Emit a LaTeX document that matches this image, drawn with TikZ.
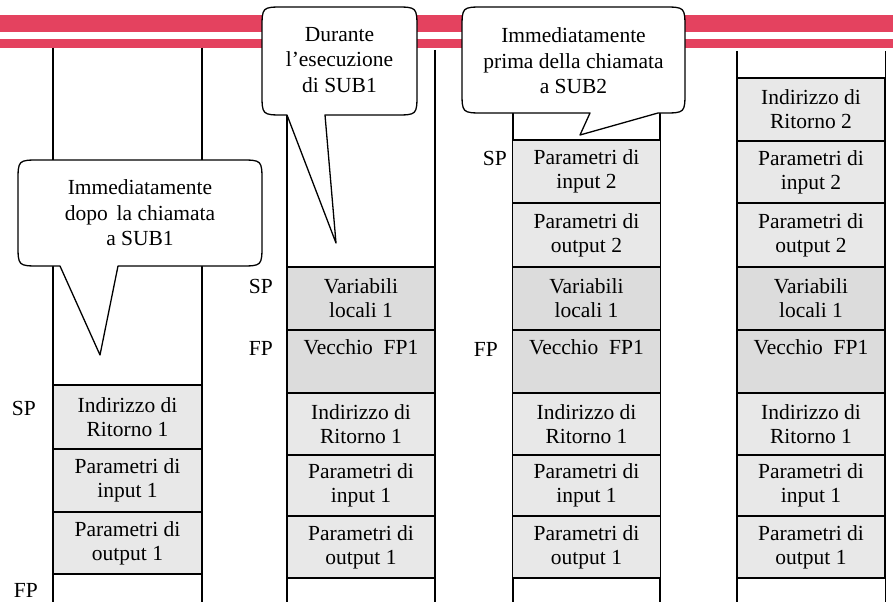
\documentclass[tikz,border=0pt]{standalone}
\usepackage{fontspec}
\setmainfont{Liberation Serif}
\definecolor{barred}{HTML}{E4425F}
\definecolor{lightgr}{HTML}{E8E8E8}
\definecolor{darkgr}{HTML}{DCDCDC}
\begin{document}
\begin{tikzpicture}[x=1pt,y=-1pt,
  every node/.style={font=\fontsize{21.5}{24}\selectfont},
  stackbox/.style={draw=black,line width=1.3pt,minimum width=148pt,inner sep=0pt,outer sep=0pt,align=center},
  lbox/.style={stackbox,fill=lightgr},
  dbox/.style={stackbox,fill=darkgr},
  lbl/.style={anchor=base east,inner sep=0pt},
  stackline/.style={line width=1.2pt},
  callout/.style={draw=black,fill=white,line width=1.3pt,line join=round},
  ctext/.style={align=center,font=\fontsize{21.5}{25.5}\selectfont}]
\useasboundingbox (0,0) rectangle (893,602);
% red bars
\fill[barred] (0,15) rectangle (893,31.7);
\fill[barred] (0,39) rectangle (893,47.7);
% stack side lines
\draw[stackline] (53,47.7) -- (53,602) (202,47.7) -- (202,602);
\draw[stackline] (287,50) -- (287,602) (435,50) -- (435,602);
\draw[stackline] (513,50) -- (513,602) (660,50) -- (660,602);
\draw[stackline] (737,51) -- (737,602) (885.5,51) -- (885.5,602);
% column 1
\node[lbox,minimum height=64pt] (a1) at (127.5,417) {Indirizzo di\\Ritorno 1};
\node[lbox,minimum height=63pt] (a2) at (127.5,480.5) {Parametri di\\input 1};
\node[lbox,minimum height=62pt] (a3) at (127.5,543) {Parametri di\\output 1};
\node[lbl] (asp) at (36,415) {SP};
\node[lbl] (afp) at (38,597.5) {FP};
% column 2
\node[dbox,minimum height=63pt] (b1) at (361,298.5) {Variabili\\locali 1};
\node[dbox,minimum height=63pt] (b2) at (361,361.5) {};
\node[anchor=base,inner sep=0pt] (b2t) at (361,354) {Vecchio\ \ FP1};
\node[lbox,minimum height=62pt] (b3) at (361,424) {Indirizzo di\\Ritorno 1};
\node[lbox,minimum height=61pt] (b4) at (361,485.5) {Parametri di\\input 1};
\node[lbox,minimum height=62pt] (b5) at (361,547) {Parametri di\\output 1};
\node[lbl] (bsp) at (273,293) {SP};
\node[lbl] (bfp) at (273,355) {FP};
% column 3
\node[lbox,minimum height=63pt] (c1) at (586.5,171.5) {Parametri di\\input 2};
\node[lbox,minimum height=64pt] (c2) at (586.5,235) {Parametri di\\output 2};
\node[dbox,minimum height=63pt] (c3) at (586.5,298.5) {Variabili\\locali 1};
\node[dbox,minimum height=63pt] (c4) at (586.5,361.5) {};
\node[anchor=base,inner sep=0pt] (c4t) at (586.5,354) {Vecchio\ \ FP1};
\node[lbox,minimum height=62pt] (c5) at (586.5,424) {Indirizzo di\\Ritorno 1};
\node[lbox,minimum height=61pt] (c6) at (586.5,485.5) {Parametri di\\input 1};
\node[lbox,minimum height=62pt] (c7) at (586.5,547) {Parametri di\\output 1};
\node[lbl] (csp) at (507,165.5) {SP};
\node[lbl] (cfp) at (498,356) {FP};
% column 4
\node[lbox,minimum height=63pt] (d0) at (811,109.5) {Indirizzo di\\Ritorno 2};
\node[lbox,minimum height=62pt] (d1) at (811,172) {Parametri di\\input 2};
\node[lbox,minimum height=64pt] (d2) at (811,235) {Parametri di\\output 2};
\node[dbox,minimum height=63pt] (d3) at (811,298.5) {Variabili\\locali 1};
\node[dbox,minimum height=63pt] (d4) at (811,361.5) {};
\node[anchor=base,inner sep=0pt] (d4t) at (811,354) {Vecchio\ \ FP1};
\node[lbox,minimum height=62pt] (d5) at (811,424) {Indirizzo di\\Ritorno 1};
\node[lbox,minimum height=61pt] (d6) at (811,485.5) {Parametri di\\input 1};
\node[lbox,minimum height=62pt] (d7) at (811,547) {Parametri di\\output 1};
% callout 1
\draw[callout] (60,266) -- (100,355) -- (118,266) -- (240,266) .. controls (262,266) .. (262,244)
  -- (262,182) .. controls (262,160) .. (240,160) -- (40,160) .. controls (18,160) .. (18,182)
  -- (18,244) .. controls (18,266) .. (40,266) -- cycle;
\node[ctext] (t1) at (140,213) {Immediatamente\\dopo\ \,la chiamata\\a SUB1};
% callout 2
\draw[callout] (287,115) -- (336,243) -- (325,115) -- (395,115) .. controls (417,115) .. (417,93)
  -- (417,29) .. controls (417,7) .. (395,7) -- (284,7) .. controls (262,7) .. (262,29)
  -- (262,93) .. controls (262,115) .. (284,115) -- cycle;
\node[ctext] (t2) at (339.5,60) {Durante\\l’esecuzione\\di SUB1};
% callout 3
\draw[callout] (590,113) -- (580,135) -- (658,113) -- (663,113) .. controls (685,113) .. (685,91)
  -- (685,29) .. controls (685,7) .. (663,7) -- (484,7) .. controls (462,7) .. (462,29)
  -- (462,91) .. controls (462,113) .. (484,113) -- cycle;
\node[ctext] (t3) at (573.5,61) {Immediatamente\\prima della chiamata\\a SUB2};
\end{tikzpicture}
\end{document}
